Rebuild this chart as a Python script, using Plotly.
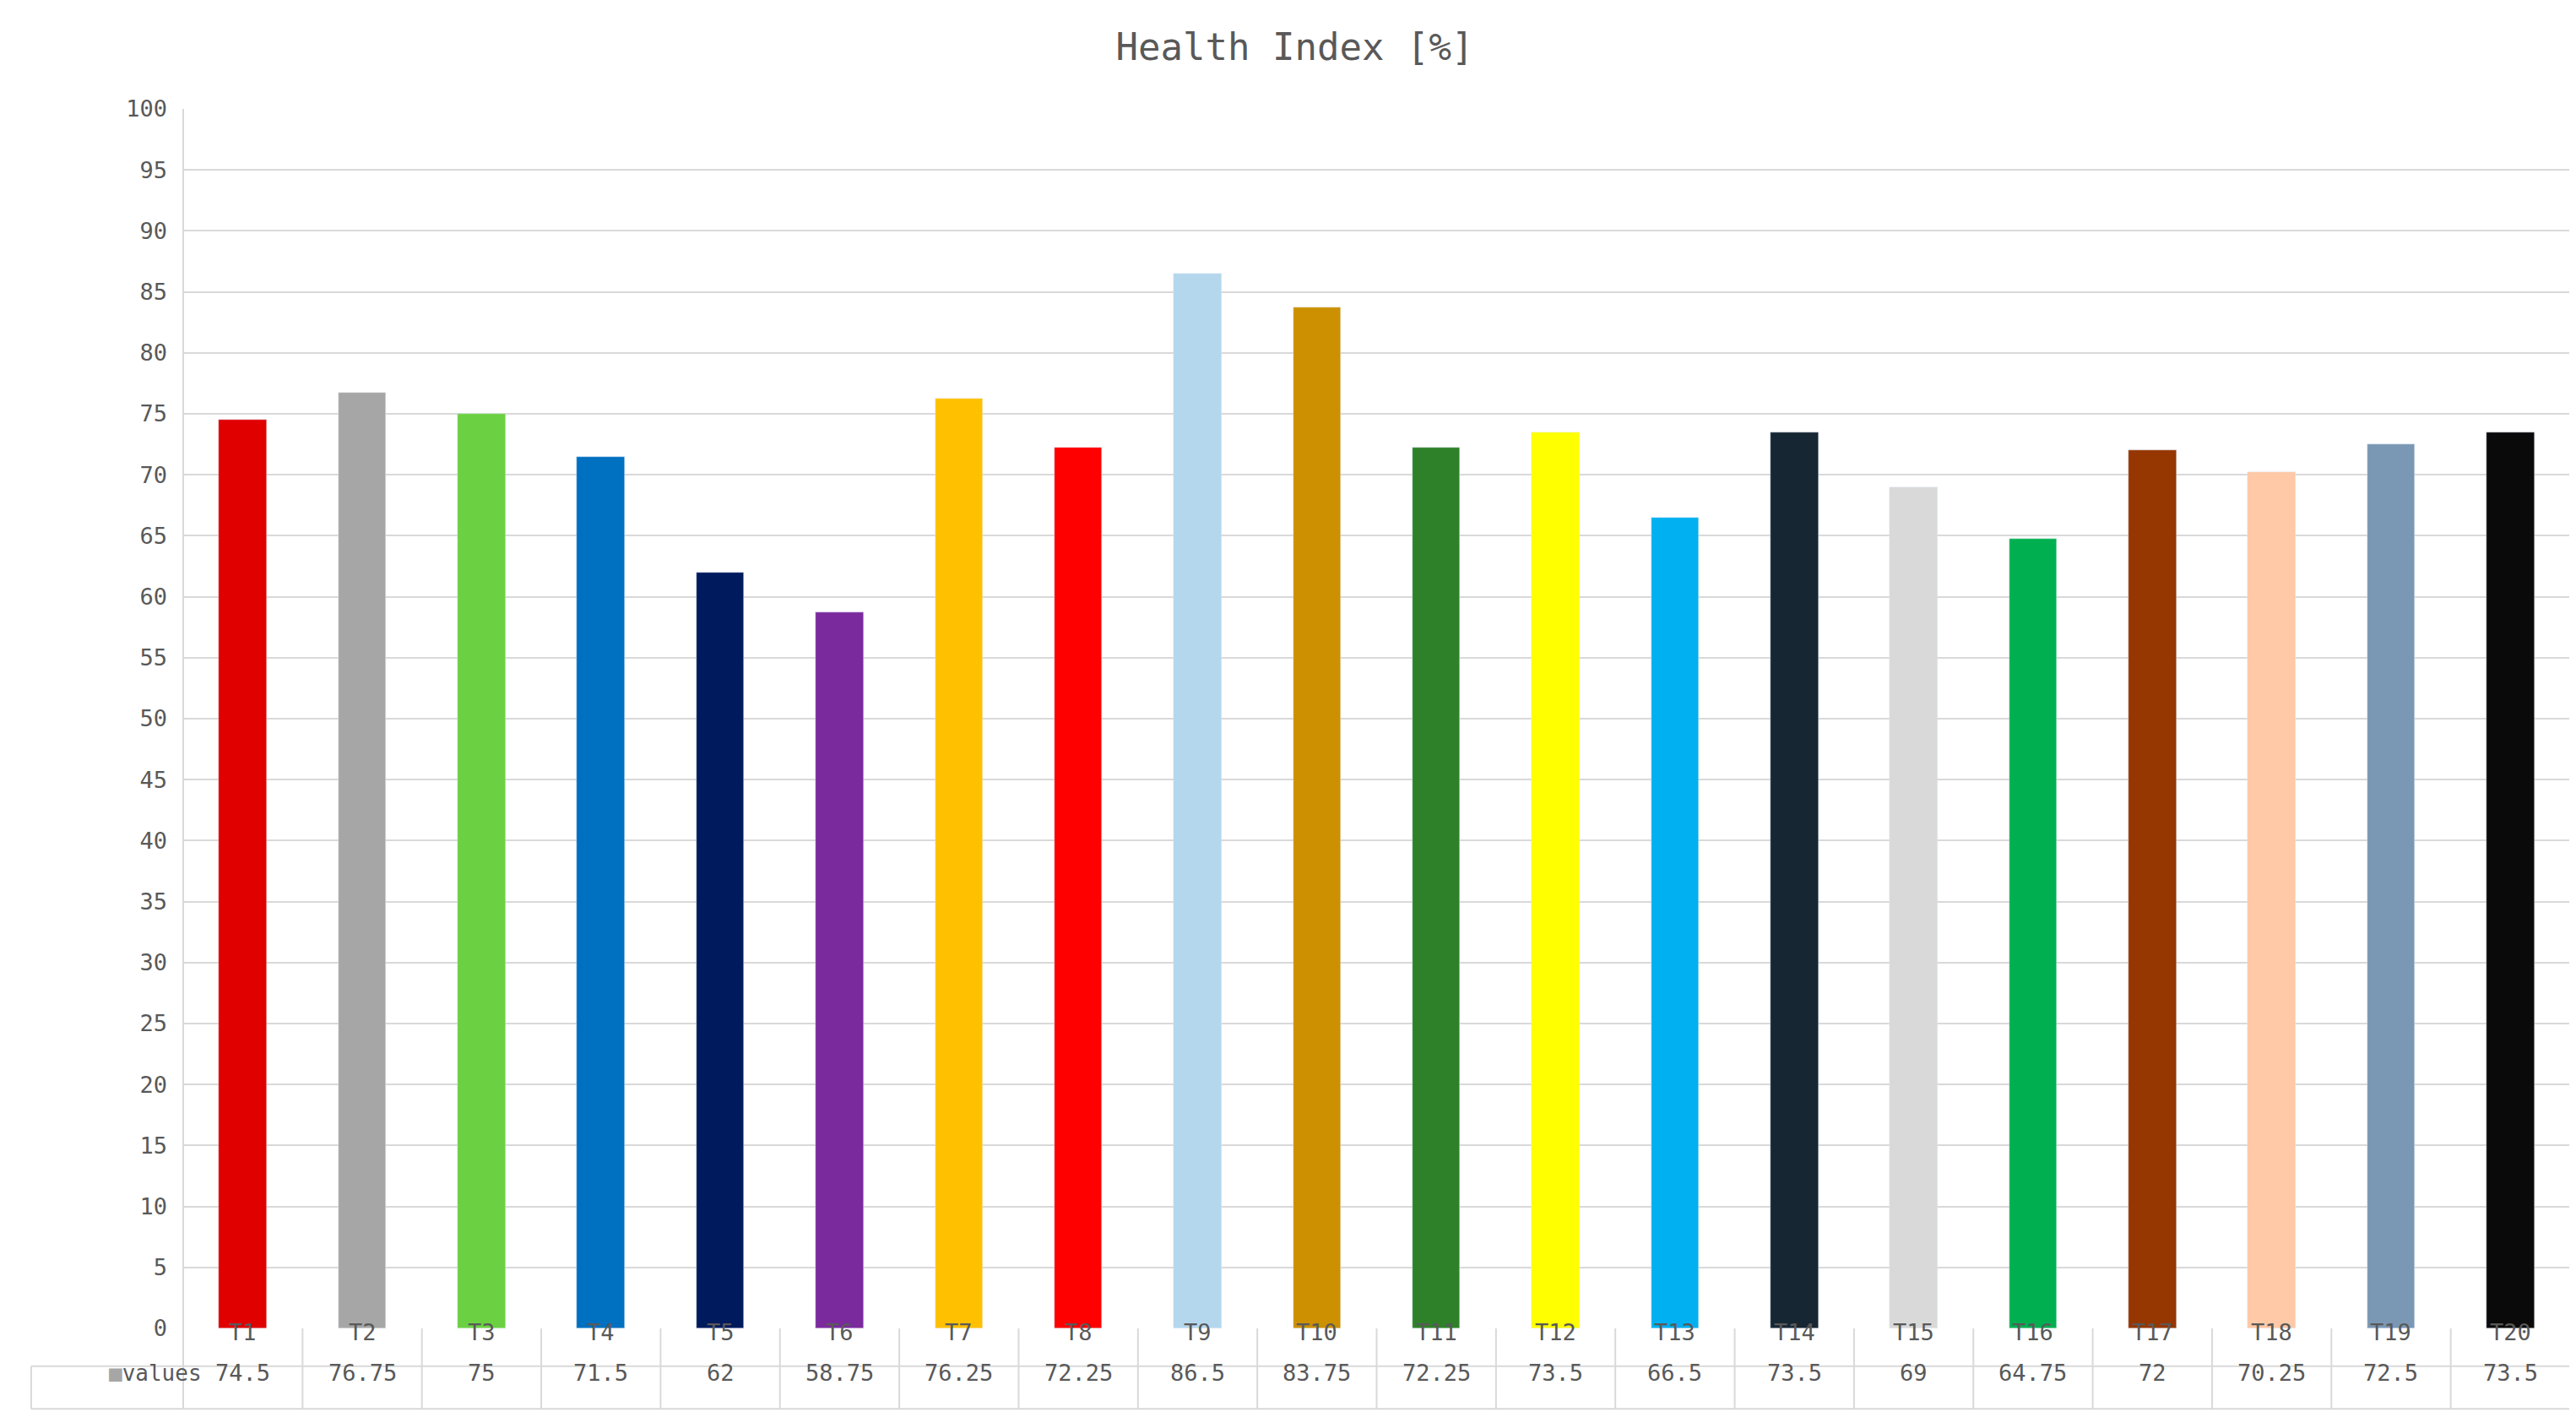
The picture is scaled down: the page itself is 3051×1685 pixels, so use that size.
import plotly.graph_objects as go

categories = [f"T{i}" for i in range(1, 21)]
values = [74.5, 76.75, 75, 71.5, 62, 58.75, 76.25, 72.25, 86.5, 83.75,
          72.25, 73.5, 66.5, 73.5, 69, 64.75, 72, 70.25, 72.5, 73.5]
labels = ["74.5", "76.75", "75", "71.5", "62", "58.75", "76.25", "72.25", "86.5", "83.75",
          "72.25", "73.5", "66.5", "73.5", "69", "64.75", "72", "70.25", "72.5", "73.5"]
colors = ["#E00000", "#A6A6A6", "#6CD142", "#0070C0", "#001A5E", "#7B2A9E", "#FFC000", "#FF0000",
          "#B4D7EE", "#CC9000", "#2E8128", "#FFFF00", "#00B0F0", "#172633", "#D9D9D9", "#00B050",
          "#963600", "#FFC8A6", "#7A97B4", "#0A0A0A"]

FONT = "DejaVu Sans Mono"
GRAY = "#595959"
LINE = "#D9D9D9"

fig = go.Figure(go.Bar(x=list(range(20)), y=values, marker_color=colors, width=0.4))

r1, r2, lx = -0.031, -0.066, -0.0637
shapes = [
    dict(type="line", xref="paper", yref="paper", x0=lx, x1=1, y0=r1, y1=r1, line=dict(color=LINE, width=2)),
    dict(type="line", xref="paper", yref="paper", x0=lx, x1=1, y0=r2, y1=r2, line=dict(color=LINE, width=2)),
    dict(type="line", xref="paper", yref="paper", x0=lx, x1=lx, y0=r1, y1=r2, line=dict(color=LINE, width=2)),
    dict(type="line", xref="paper", yref="paper", x0=0, x1=0, y0=1, y1=r2, line=dict(color=LINE, width=2)),
    dict(type="line", xref="paper", yref="paper", x0=1, x1=1, y0=1, y1=r2, line=dict(color=LINE, width=2)),
]
for i in range(1, 20):
    shapes.append(dict(type="line", xref="x", yref="paper", x0=i - 0.5, x1=i - 0.5, y0=0, y1=r2,
                       line=dict(color=LINE, width=2)))
anns = []
for i, (c, l) in enumerate(zip(categories, labels)):
    anns.append(dict(x=i, y=r1 / 2, xref="x", yref="paper", text=c, showarrow=False,
                     font=dict(family=FONT, size=27, color=GRAY)))
    anns.append(dict(x=i, y=(r1 + r2) / 2, xref="x", yref="paper", text=l, showarrow=False,
                     font=dict(family=FONT, size=27, color=GRAY)))
anns.append(dict(x=lx / 2, y=(r1 + r2) / 2, xref="paper", yref="paper", text="<span style='color:#A6A6A6'>■</span>values",
                 showarrow=False, font=dict(family=FONT, size=26, color=GRAY)))

fig.update_layout(
    width=3051, height=1685,
    margin=dict(l=209, r=15, t=121, b=120),
    plot_bgcolor="white", paper_bgcolor="white",
    title=dict(text="Health Index [%]", x=0.5, xanchor="center", y=0.972, yanchor="middle",
               font=dict(family=FONT, size=44, color=GRAY)),
    xaxis=dict(range=[-0.5, 19.5], showticklabels=False, showgrid=False, zeroline=False, fixedrange=True),
    yaxis=dict(range=[0, 100], dtick=5, showgrid=True, gridcolor=LINE, gridwidth=2, zeroline=False,
               tickfont=dict(family=FONT, size=27, color=GRAY), ticks="", ticklabelstandoff=18),
    shapes=shapes, annotations=anns, showlegend=False, bargap=0,
)
fig.write_html("out.html")
